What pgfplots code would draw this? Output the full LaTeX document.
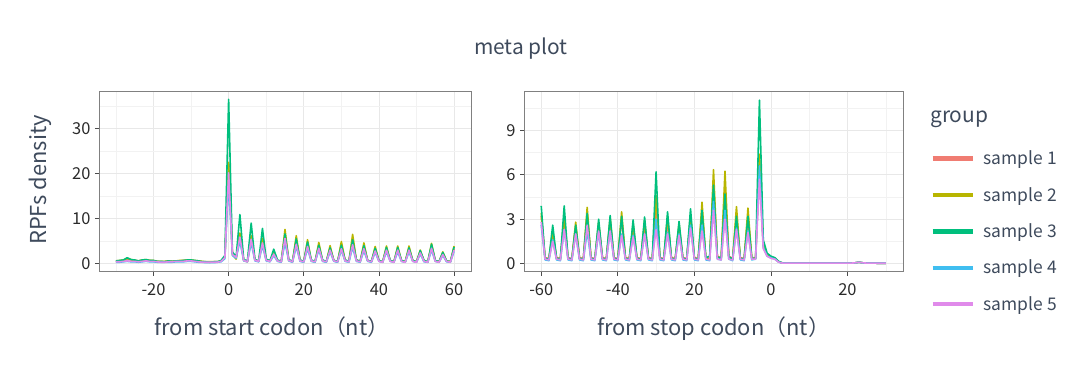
\documentclass[border=0pt]{standalone}
\usepackage{pgfplots}
\pgfplotsset{compat=1.18}
\usepackage{pgfplotstable}
\usepackage{fontspec}
\setmainfont{Noto Sans CJK SC}
\definecolor{cA}{HTML}{F07C72}
\definecolor{cB}{HTML}{B8B500}
\definecolor{cC}{HTML}{00BF7D}
\definecolor{cD}{HTML}{40BEF0}
\definecolor{cE}{HTML}{E08AEA}
\definecolor{txt}{HTML}{3E4A5C}
\definecolor{tck}{HTML}{2A2A2A}

\pgfplotstableread{
x s1 s2 s3 s4 s5
-30 0.5 0.6 0.6 0.3 0.4
-29 0.6 0.7 0.7 0.3 0.4
-28 0.7 0.8 0.8 0.4 0.5
-27 1.0 1.2 1.3 0.5 0.6
-26 0.8 0.9 0.9 0.4 0.5
-25 0.7 0.7 0.8 0.4 0.5
-24 0.6 0.6 0.6 0.3 0.4
-23 0.7 0.8 0.8 0.4 0.5
-22 0.8 0.9 0.9 0.5 0.6
-21 0.7 0.7 0.7 0.4 0.5
-20 0.6 0.7 0.7 0.4 0.5
-19 0.5 0.5 0.5 0.3 0.4
-18 0.4 0.5 0.5 0.3 0.3
-17 0.4 0.5 0.4 0.3 0.3
-16 0.5 0.6 0.6 0.3 0.4
-15 0.5 0.5 0.5 0.3 0.4
-14 0.6 0.6 0.6 0.4 0.5
-13 0.6 0.7 0.6 0.4 0.5
-12 0.7 0.7 0.7 0.4 0.5
-11 0.7 0.8 0.8 0.5 0.6
-10 0.7 0.8 0.8 0.5 0.6
-9 0.6 0.7 0.7 0.4 0.5
-8 0.5 0.6 0.6 0.3 0.4
-7 0.4 0.5 0.4 0.3 0.3
-6 0.3 0.4 0.4 0.2 0.3
-5 0.3 0.4 0.3 0.2 0.3
-4 0.4 0.4 0.4 0.2 0.3
-3 0.4 0.4 0.4 0.3 0.3
-2 0.6 0.6 0.7 0.4 0.5
-1 1.5 1.4 1.8 1.1 1.3
0 22.0 22.5 36.5 18.0 20.2
1 2.2 2.0 2.6 1.8 2.0
2 1.3 1.0 1.5 1.2 1.4
3 6.2 6.8 10.9 5.0 5.9
4 0.8 0.7 0.9 0.6 0.7
5 0.5 0.4 0.6 0.4 0.4
6 5.6 6.2 9.0 4.6 5.4
7 0.8 0.8 0.9 0.6 0.7
8 0.6 0.5 0.6 0.4 0.5
9 5.0 5.6 7.8 4.0 4.6
10 0.9 0.8 1.0 0.6 0.7
11 0.6 0.5 0.6 0.4 0.5
12 2.2 2.6 3.2 1.8 2.1
13 0.7 0.6 0.8 0.5 0.6
14 0.5 0.4 0.5 0.3 0.4
15 6.0 7.6 6.6 4.6 5.6
16 0.8 0.7 0.9 0.6 0.7
17 0.5 0.4 0.5 0.3 0.4
18 5.0 6.2 5.5 3.8 4.3
19 0.8 0.7 0.8 0.5 0.6
20 0.5 0.4 0.5 0.3 0.4
21 4.3 5.3 4.8 3.3 3.8
22 0.7 0.6 0.8 0.5 0.6
23 0.4 0.4 0.5 0.3 0.4
24 3.8 4.7 4.1 3.0 3.4
25 0.7 0.6 0.8 0.5 0.6
26 0.4 0.4 0.5 0.3 0.4
27 3.3 4.0 3.5 2.6 3.0
28 0.7 0.6 0.7 0.5 0.6
29 0.4 0.4 0.5 0.3 0.4
30 4.0 4.9 4.1 3.0 3.3
31 0.8 0.7 0.8 0.5 0.6
32 0.5 0.4 0.5 0.3 0.4
33 5.1 6.5 5.3 3.6 4.2
34 0.8 0.7 0.8 0.5 0.6
35 0.5 0.4 0.5 0.3 0.4
36 3.8 4.6 4.0 2.8 3.3
37 0.7 0.6 0.7 0.5 0.6
38 0.4 0.4 0.5 0.3 0.4
39 3.2 3.8 3.4 2.5 2.8
40 0.7 0.6 0.7 0.5 0.5
41 0.4 0.4 0.4 0.3 0.3
42 3.3 3.9 3.6 2.6 3.0
43 0.7 0.6 0.7 0.5 0.5
44 0.4 0.4 0.4 0.3 0.3
45 3.3 3.9 3.6 2.6 3.0
46 0.7 0.6 0.7 0.5 0.5
47 0.4 0.4 0.4 0.3 0.3
48 3.3 3.9 3.5 2.6 3.0
49 0.7 0.6 0.7 0.5 0.5
50 0.4 0.4 0.4 0.3 0.3
51 2.6 3.0 2.9 2.1 2.4
52 0.6 0.6 0.7 0.4 0.5
53 0.4 0.4 0.4 0.3 0.3
54 3.8 4.5 4.3 3.0 3.4
55 0.7 0.6 0.7 0.5 0.5
56 0.4 0.4 0.4 0.3 0.3
57 2.2 2.6 2.5 1.8 2.0
58 0.6 0.6 0.6 0.4 0.5
59 0.4 0.4 0.4 0.3 0.3
60 3.3 3.9 3.7 2.7 3.0
}\startdata

\pgfplotstableread{
x s1 s2 s3 s4 s5
-60 3.2 3.4 3.9 2.6 2.8
-59 0.4 0.35 0.35 0.25 0.3
-58 0.35 0.3 0.3 0.2 0.25
-57 2.0 2.2 2.6 1.6 1.5
-56 0.4 0.35 0.35 0.25 0.3
-55 0.35 0.3 0.3 0.2 0.25
-54 3.0 3.2 3.9 2.3 2.3
-53 0.4 0.35 0.35 0.25 0.3
-52 0.35 0.3 0.3 0.2 0.25
-51 2.5 2.8 2.6 2.0 2.0
-50 0.4 0.35 0.35 0.25 0.3
-49 0.35 0.3 0.3 0.2 0.25
-48 3.3 3.8 3.4 2.2 2.6
-47 0.4 0.35 0.35 0.25 0.3
-46 0.35 0.3 0.3 0.2 0.25
-45 2.6 2.8 3.0 2.1 2.2
-44 0.4 0.35 0.35 0.25 0.3
-43 0.35 0.3 0.3 0.2 0.25
-42 2.8 3.1 3.25 2.2 2.2
-41 0.4 0.35 0.35 0.25 0.3
-40 0.35 0.3 0.3 0.2 0.25
-39 3.0 3.5 3.2 2.0 1.9
-38 0.4 0.35 0.35 0.25 0.3
-37 0.35 0.3 0.3 0.2 0.25
-36 2.4 2.7 2.95 1.9 1.8
-35 0.4 0.35 0.35 0.25 0.3
-34 0.35 0.3 0.3 0.2 0.25
-33 2.6 2.9 3.15 2.0 2.0
-32 0.4 0.35 0.35 0.25 0.3
-31 0.35 0.3 0.3 0.2 0.25
-30 4.0 4.6 6.2 3.0 2.3
-29 0.4 0.35 0.35 0.25 0.3
-28 0.35 0.3 0.3 0.2 0.25
-27 2.8 3.2 3.5 2.1 2.0
-26 0.4 0.35 0.35 0.25 0.3
-25 0.35 0.3 0.3 0.2 0.25
-24 2.4 2.7 2.85 2.0 1.9
-23 0.4 0.35 0.35 0.25 0.3
-22 0.35 0.3 0.3 0.2 0.25
-21 3.0 3.3 3.7 2.6 2.4
-20 0.4 0.35 0.35 0.25 0.3
-19 0.35 0.3 0.3 0.2 0.25
-18 3.5 4.15 3.6 2.6 2.2
-17 0.4 0.35 0.4 0.25 0.3
-16 0.35 0.3 0.5 0.2 0.25
-15 5.5 6.35 5.3 4.2 3.6
-14 0.5 0.45 0.45 0.3 0.3
-13 0.4 0.35 0.35 0.25 0.25
-12 5.0 6.25 4.7 3.6 3.0
-11 0.5 0.45 0.45 0.3 0.3
-10 0.35 0.3 0.3 0.2 0.25
-9 3.2 3.85 3.2 2.4 2.3
-8 0.4 0.35 0.35 0.25 0.3
-7 0.35 0.3 0.3 0.2 0.25
-6 3.0 3.75 3.2 2.2 2.1
-5 0.4 0.35 0.35 0.25 0.3
-4 0.4 0.35 0.35 0.3 0.3
-3 6.5 7.4 11.05 6.6 5.7
-2 1.2 1.3 1.6 1.1 1.0
-1 0.6 0.6 0.7 0.5 0.5
0 0.45 0.45 0.5 0.4 0.35
1 0.35 0.35 0.4 0.3 0.3
2 0.12 0.12 0.15 0.1 0.1
3 0.04 0.04 0.05 0.03 0.03
4 0.03 0.03 0.03 0.03 0.03
5 0.03 0.03 0.03 0.03 0.03
6 0.03 0.03 0.03 0.03 0.03
7 0.03 0.03 0.03 0.03 0.03
8 0.03 0.03 0.03 0.03 0.03
9 0.03 0.03 0.03 0.03 0.03
10 0.03 0.03 0.03 0.03 0.03
11 0.03 0.03 0.03 0.03 0.03
12 0.03 0.03 0.03 0.03 0.03
13 0.03 0.03 0.03 0.03 0.03
14 0.03 0.03 0.03 0.03 0.03
15 0.03 0.03 0.03 0.03 0.03
16 0.03 0.03 0.03 0.03 0.03
17 0.03 0.03 0.03 0.03 0.03
18 0.03 0.03 0.03 0.03 0.03
19 0.03 0.03 0.03 0.03 0.03
20 0.03 0.03 0.03 0.03 0.03
21 0.03 0.03 0.03 0.03 0.03
22 0.05 0.05 0.05 0.05 0.05
23 0.09 0.09 0.1 0.08 0.09
24 0.05 0.05 0.05 0.05 0.05
25 0.03 0.03 0.03 0.03 0.03
26 0.03 0.03 0.03 0.03 0.03
27 0.03 0.03 0.03 0.03 0.03
28 0.02 0.02 0.02 0.02 0.02
29 0.02 0.02 0.02 0.02 0.02
30 0.02 0.02 0.02 0.02 0.02
}\stopdata

\pgfplotsset{
  base/.style={
    scale only axis,
    anchor=south west,
    axis line style={draw=black!50, line width=0.8bp},
    grid=both,
    major grid style={draw=black!9, line width=0.8bp},
    minor grid style={draw=black!5, line width=0.5bp},
    tick align=outside,
    major tick length=4bp,
    minor tick length=0bp,
    tick style={draw=black!70, line width=0.7bp},
    xtick pos=bottom, ytick pos=left,
    /pgf/number format/assume math mode=true,
    tick label style={font=\fontsize{16.5}{19}\selectfont, text=tck},
    xticklabel style={yshift=-4bp},
    yticklabel style={xshift=-1bp},
    label style={font=\fontsize{22}{26}\selectfont, text=txt},
    every axis plot/.append style={line width=1.6bp, line join=round},
    legend image code/.code={\draw[#1, line width=4.5bp] (0bp,0bp) -- (40bp,0bp);},
  }
}

\begin{document}
\begin{tikzpicture}
\path[use as bounding box] (0bp,0bp) rectangle (1080bp,376bp);
\begin{axis}[base, at={(99bp,104.3bp)}, width=372bp, height=180bp,
  xmin=-34.5, xmax=64.5, ymin=-1.8, ymax=38.2,
  xtick={-20,0,20,40,60}, xticklabels={-20,0,20,40,60},
  minor xtick={-30,-10,10,30,50},
  ytick={0,10,20,30}, yticklabels={0,10,20,30},
  minor ytick={5,15,25,35},
  xlabel={from start codon（nt）},
  xlabel style={at={(axis description cs:0.465,-0.352)}, anchor=base},
  ylabel={RPFs density},
  ylabel style={at={(axis description cs:-0.1406,0.509)}, anchor=base},
]
\addplot[cA] table[x=x,y=s1]{\startdata};
\addplot[cB] table[x=x,y=s2]{\startdata};
\addplot[cC] table[x=x,y=s3]{\startdata};
\addplot[cD] table[x=x,y=s4]{\startdata};
\addplot[cE] table[x=x,y=s5]{\startdata};
\end{axis}
\begin{axis}[base, at={(524bp,104.3bp)}, width=379bp, height=180bp,
  xmin=-64.5, xmax=34.5, ymin=-0.55, ymax=11.62,
  xtick={-60,-40,-20,0,20}, xticklabels={-60,-40,20,0,20},
  minor xtick={-50,-30,-10,10,30},
  ytick={0,3,6,9}, yticklabels={0,3,6,9},
  minor ytick={1.5,4.5,7.5,10.5},
  xlabel={from stop codon（nt）},
  xlabel style={at={(axis description cs:0.5,-0.352)}, anchor=base},
  legend style={at={(axis description cs:1.072,0.224)}, anchor=west,
    draw=none, fill=none, inner sep=0pt, outer sep=0pt,
    font=\fontsize{17.5}{20}\selectfont, text=txt,
    row sep=21bp, column sep=9bp,
    nodes={inner sep=0pt}},
  legend cell align=left,
]
\addplot[cA] table[x=x,y=s1]{\stopdata};
\addlegendentry{sample 1}
\addplot[cB] table[x=x,y=s2]{\stopdata};
\addlegendentry{sample 2}
\addplot[cC] table[x=x,y=s3]{\stopdata};
\addlegendentry{sample 3}
\addplot[cD] table[x=x,y=s4]{\stopdata};
\addlegendentry{sample 4}
\addplot[cE] table[x=x,y=s5]{\stopdata};
\addlegendentry{sample 5}
\end{axis}
\node[anchor=base, text=txt, font=\fontsize{21}{25}\selectfont] at (521bp,321.3bp) {meta plot};
\node[anchor=base west, text=txt, font=\fontsize{21}{25}\selectfont, inner sep=0pt] at (930bp,253bp) {group};
\end{tikzpicture}
\end{document}
